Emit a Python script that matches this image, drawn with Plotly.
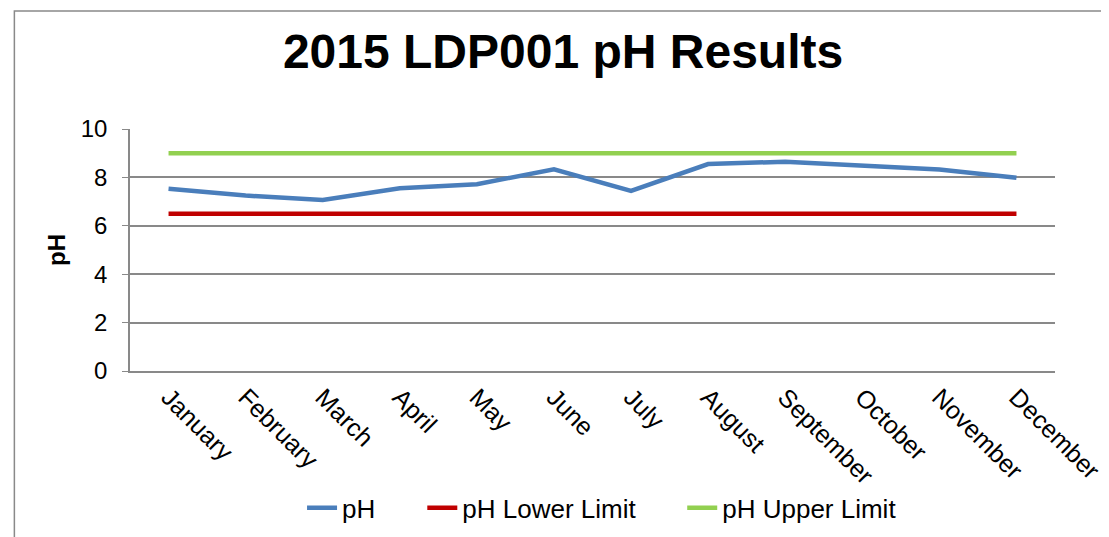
import plotly.graph_objects as go

months = ["January", "February", "March", "April", "May", "June", "July",
          "August", "September", "October", "November", "December"]
ph_values = [7.53, 7.25, 7.07, 7.55, 7.72, 8.33, 7.44, 8.55, 8.65, 8.47, 8.33, 7.99]
lower_limit = [6.5] * 12
upper_limit = [9.0] * 12

FONT = "Liberation Sans, Arial, sans-serif"
GRID = "#898989"

fig = go.Figure()
fig.add_trace(go.Scatter(x=months, y=ph_values, name="pH", mode="lines",
                         line=dict(color="#4A7EBB", width=4.5), legend="legend"))
fig.add_trace(go.Scatter(x=months, y=lower_limit, name="pH Lower Limit", mode="lines",
                         line=dict(color="#C00000", width=4.5), legend="legend2"))
fig.add_trace(go.Scatter(x=months, y=upper_limit, name="pH Upper Limit", mode="lines",
                         line=dict(color="#92D050", width=4.5), legend="legend3"))

def leg(x):
    return dict(orientation="h", x=x, xanchor="left", y=-0.566, yanchor="middle",
                font=dict(size=26, family=FONT), bgcolor="rgba(0,0,0,0)")

fig.update_layout(
    width=1109, height=537,
    margin=dict(l=122, r=56, t=121, b=174),
    paper_bgcolor="white", plot_bgcolor="white",
    font=dict(family=FONT, color="black", size=24),
    title=dict(text="<b>2015 LDP001 pH Results</b>", x=0.5005, xanchor="center",
               y=0.92, yanchor="middle", font=dict(size=48, family=FONT, color="black")),
    showlegend=True,
    legend=leg(0.186), legend2=leg(0.316), legend3=leg(0.597),
    xaxis=dict(type="category", tickangle=45, showgrid=False, showline=True,
               linecolor=GRID, linewidth=1.5, ticks="", tickfont=dict(size=25),
               range=[-0.5, 11.5]),
    yaxis=dict(range=[0, 10], dtick=2, showgrid=True, gridcolor=GRID, gridwidth=1.5,
               showline=True, linecolor=GRID, linewidth=1.5, ticks="outside",
               ticklen=6, tickcolor=GRID, tickfont=dict(size=24), zeroline=False,
               ticklabelstandoff=10,
               title=dict(text="<b>pH</b>", font=dict(size=24), standoff=8)),
    shapes=[dict(type="rect", xref="paper", yref="paper", x0=-0.125, x1=1.2,
                 y0=-1.0, y1=1.488, line=dict(color=GRID, width=1.5),
                 fillcolor="rgba(0,0,0,0)", layer="below")],
)

fig.write_html("out.html")
